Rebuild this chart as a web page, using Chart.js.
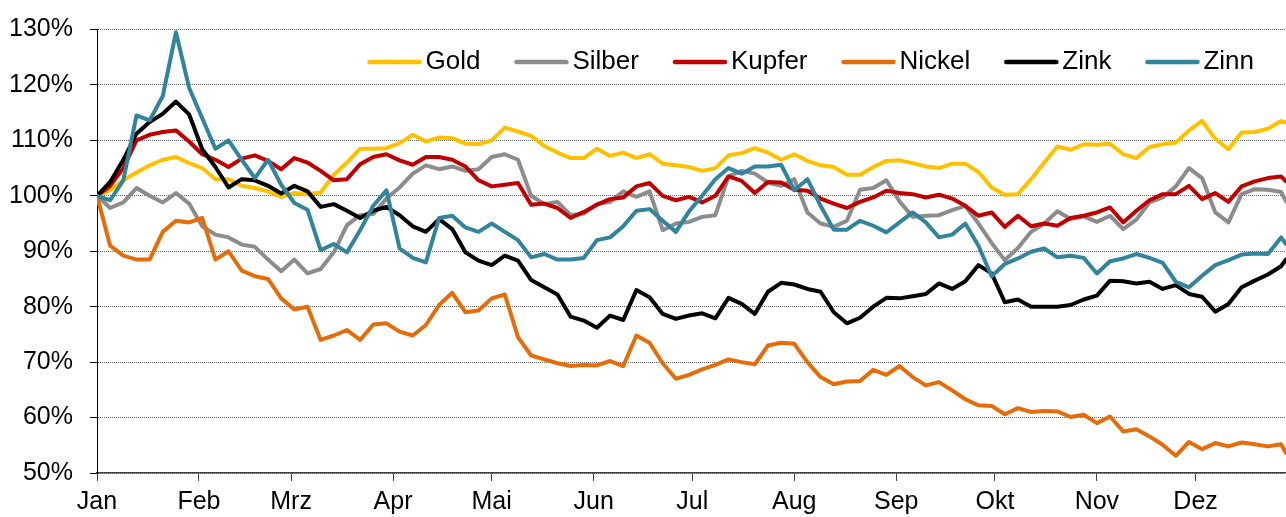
<!DOCTYPE html>
<html lang="de">
<head>
<meta charset="utf-8">
<title>Metalle</title>
<script src="https://cdn.jsdelivr.net/npm/chart.js@4.4.1/dist/chart.umd.min.js"></script>
<style>
  html, body { margin: 0; padding: 0; background: #fff; }
  #wrap { width: 1286px; height: 517px; }
</style>
</head>
<body>
<div id="wrap"><canvas id="chart" width="1286" height="517"></canvas></div>
<script>
// Tag im Jahr (0 = 1. Januar)
const days = [0, 4, 8, 12, 16, 20, 24, 28, 32, 36, 40, 44, 48, 52, 56, 60, 64, 68, 72, 76,
    80, 84, 88, 92, 96, 100, 104, 108, 112, 116, 120, 124, 128, 132, 136, 140, 144, 148, 152, 156,
    160, 164, 168, 172, 176, 180, 184, 188, 192, 196, 200, 204, 208, 212, 216, 220, 224, 228, 232, 236,
    240, 244, 248, 252, 256, 260, 264, 268, 272, 276, 280, 284, 288, 292, 296, 300, 304, 308, 312, 316,
    320, 324, 328, 332, 336, 340, 344, 348, 352, 356, 360, 361.5];

const monthStarts = [0, 31, 59, 90, 120, 151, 181, 212, 243, 273, 304, 334];
const monthLabels = ['Jan', 'Feb', 'Mrz', 'Apr', 'Mai', 'Jun', 'Jul', 'Aug', 'Sep', 'Okt', 'Nov', 'Dez'];
const yTicks = [50, 60, 70, 80, 90, 100, 110, 120, 130];

// Index, Jahresanfang = 100 %
const gold = [100, 101, 102.8, 104.2, 105.5, 106.5, 107, 105.9, 105, 103, 103, 101.8, 101.4, 100.8, 99.8, 100.5, 100.3, 100.6, 103.8, 106,
    108.5, 108.5, 108.6, 109.5, 111, 109.8, 110.5, 110.4, 109.4, 109.3, 110, 112.3, 111.6, 110.8, 109, 107.8, 106.8, 106.8, 108.5, 107.2,
    107.8, 106.8, 107.5, 105.8, 105.5, 105.2, 104.5, 105, 107.3, 107.7, 108.6, 107.8, 106.5, 107.5, 106.3, 105.5, 105.2, 103.8, 103.8, 105.2,
    106.3, 106.4, 105.9, 105.3, 105, 105.8, 105.8, 104.3, 101.5, 100.2, 100.3, 103, 106, 108.9, 108.3, 109.3, 109.2, 109.4, 107.5, 106.8,
    108.8, 109.3, 109.6, 111.8, 113.5, 110.3, 108.4, 111.4, 111.5, 112.1, 113.5, 113.2];

const silber = [100, 97.8, 98.8, 101.4, 100, 98.8, 100.5, 98.6, 94.5, 93, 92.5, 91.2, 90.8, 88.5, 86.4, 88.5, 86, 86.8, 89.8, 94.7,
    96.5, 96.7, 99.5, 101.5, 104, 105.5, 104.8, 105.3, 104.5, 104.8, 107, 107.5, 106.5, 100, 98.5, 98.9, 96.5, 96.8, 98.5, 98.9,
    100.8, 99.8, 100.8, 93.8, 95, 95.3, 96.2, 96.5, 103.5, 104.5, 104, 102.4, 101.8, 103, 97, 95, 94.4, 95.5, 101.1, 101.4,
    102.8, 99, 96.2, 96.4, 96.5, 97.4, 98.2, 95, 91.5, 88.4, 90.6, 93.5, 95, 97.2, 95.8, 96.3, 95.3, 96.4, 94, 95.7,
    98.8, 99.7, 101.7, 105, 103.2, 97, 95.2, 100.3, 101.2, 101.1, 100.7, 99];

const kupfer = [100, 101.8, 105, 110, 111, 111.5, 111.8, 109.8, 107.5, 106.5, 105.2, 106.7, 107.3, 106.3, 104.8, 106.8, 106, 104.5, 102.8, 103,
    105.7, 107, 107.5, 106.4, 105.6, 107, 107, 106.5, 105.3, 102.8, 101.7, 102, 102.3, 98.4, 98.6, 97.8, 96, 97.1, 98.4, 99.4,
    99.7, 101.7, 102.3, 100, 99.2, 99.8, 98.8, 100, 103.5, 102.7, 100.5, 102.5, 102.4, 101.1, 100.9, 99.5, 98.6, 97.8, 98.9, 99.7,
    100.9, 100.5, 100.3, 99.7, 100.2, 99.5, 98.2, 96.4, 97, 94.4, 96.4, 94.5, 95, 94.6, 96, 96.4, 97, 97.9, 95.2, 97.3,
    99.2, 100.3, 100.3, 101.8, 99.4, 100.5, 98.9, 101.7, 102.6, 103.2, 103.5, 102.6];

const nickel = [100, 91, 89.2, 88.5, 88.5, 93.5, 95.5, 95.2, 96, 88.5, 90, 86.5, 85.5, 85, 81.5, 79.5, 80, 74, 74.8, 75.8,
    74, 76.8, 77, 75.5, 74.8, 76.7, 80.3, 82.5, 79, 79.3, 81.5, 82.2, 74.5, 71.2, 70.5, 69.8, 69.3, 69.5, 69.4, 70.2,
    69.3, 74.8, 73.5, 69.8, 67, 67.7, 68.7, 69.5, 70.5, 70, 69.6, 73, 73.5, 73.3, 70, 67.3, 66, 66.5, 66.6, 68.6,
    67.7, 69.3, 67.3, 65.8, 66.4, 64.9, 63.3, 62.2, 62.1, 60.6, 61.7, 61, 61.2, 61.1, 60.1, 60.5, 59, 60.2, 57.5, 57.9,
    56.6, 55.1, 53.1, 55.6, 54.3, 55.4, 54.8, 55.5, 55.2, 54.8, 55.2, 53.6];

const zink = [100, 102.5, 106.5, 111.2, 113.3, 114.8, 117, 114.7, 108.4, 105.2, 101.5, 103, 102.8, 101.8, 100.4, 101.8, 100.8, 98, 98.5, 97.3,
    96, 97.3, 98, 96.5, 94.5, 93.5, 95.8, 94, 89.8, 88.3, 87.5, 89.2, 88.3, 84.8, 83.5, 82.2, 78.2, 77.5, 76.2, 78.4,
    77.6, 83, 81.7, 78.7, 77.8, 78.4, 78.8, 77.9, 81.6, 80.5, 78.7, 82.7, 84.3, 84, 83.2, 82.7, 79, 77, 78, 80,
    81.6, 81.5, 81.9, 82.3, 84.2, 83.2, 84.6, 87.5, 86, 80.8, 81.3, 80, 80, 80, 80.3, 81.3, 82, 84.7, 84.6, 84.2,
    84.5, 83.2, 83.9, 82.3, 81.8, 79.1, 80.5, 83.5, 84.7, 85.8, 87.3, 88.5];

const zinn = [100, 99.2, 102.8, 114.5, 113.6, 118, 129.5, 119.5, 114, 108.5, 110, 106.5, 103.2, 106.5, 102, 98.7, 97.5, 90.2, 91.3, 89.8,
    93.8, 98.2, 101, 90.5, 88.8, 88, 96, 96.4, 94.3, 93.5, 95, 93.5, 92, 88.9, 89.5, 88.5, 88.5, 88.8, 92, 92.5,
    94.5, 97.3, 97.6, 95.5, 93.5, 97.2, 100, 103, 105, 104, 105.3, 105.3, 105.6, 101, 103, 98.2, 93.9, 93.9, 95.5, 94.6,
    93.4, 95.2, 97, 95.2, 92.5, 93, 95, 91, 85.5, 87.7, 88.7, 89.9, 90.5, 88.9, 89.2, 88.8, 86, 88.2, 88.7, 89.5,
    88.8, 87.9, 84.5, 83.5, 85.6, 87.5, 88.4, 89.4, 89.6, 89.5, 92.5, 91.3];

const seriesNames = ['Gold', 'Silber', 'Kupfer', 'Nickel', 'Zink', 'Zinn'];
const seriesColors = ['#FFC000', '#8C8C8C', '#C00000', '#E46C0A', '#000000', '#31849B'];
const seriesValues = [gold, silber, kupfer, nickel, zink, zinn];

const FONT = '"Liberation Sans", Arial, sans-serif';

// kurze Linie mit runden Enden fuer die Legende
function legendLine(color) {
    const c = document.createElement('canvas');
    c.width = 56;
    c.height = 6;
    const g = c.getContext('2d');
    g.strokeStyle = color;
    g.lineWidth = 4.5;
    g.lineCap = 'round';
    g.beginPath();
    g.moveTo(3, 3);
    g.lineTo(53, 3);
    g.stroke();
    return c;
}

// Legende liegt im Diagramm und nimmt keinen Platz weg
const legendInside = {
    id: 'legendInside',
    beforeLayout(chart) {
        const lg = chart.legend;
        if (lg && !lg._inside) {
            const fit = lg.fit;
            lg.fit = function () {
                fit.call(this);
                this.height = 0;
            };
            lg._inside = true;
        }
    },
    afterLayout(chart) {
        const lg = chart.legend;
        lg.left = 333.5;
        lg.right = 4000;
        lg.top = 6;
        lg.bottom = 120;
    }
};

const datasets = seriesNames.map(function (name, s) {
    return {
        label: name,
        data: days.map((d, i) => ({ x: d, y: seriesValues[s][i] })),
        borderColor: seriesColors[s],
        backgroundColor: seriesColors[s],
        borderWidth: 4,
        pointRadius: 0,
        tension: 0,
        borderJoinStyle: 'round',
        borderCapStyle: 'round',
        order: seriesNames.length - s
    };
});

new Chart(document.getElementById('chart'), {
    type: 'line',
    data: { datasets: datasets },
    options: {
        responsive: false,
        animation: false,
        devicePixelRatio: 1,
        layout: { padding: { left: 0, right: 0, top: 26, bottom: 0 } },
        plugins: {
            tooltip: { enabled: false },
            legend: {
                position: 'top',
                align: 'start',
                labels: {
                    usePointStyle: true,
                    pointStyleWidth: 36,
                    padding: 43,
                    color: '#000',
                    font: { family: FONT, size: 26 },
                    generateLabels: chart => chart.data.datasets.map((ds, i) => ({
                        text: ds.label,
                        fillStyle: ds.borderColor,
                        strokeStyle: ds.borderColor,
                        lineWidth: 0,
                        pointStyle: legendLine(ds.borderColor),
                        fontColor: '#000',
                        hidden: false,
                        datasetIndex: i
                    }))
                }
            }
        },
        scales: {
            x: {
                type: 'linear',
                min: 0,
                max: 361.5,
                afterBuildTicks: axis => { axis.ticks = monthStarts.map(v => ({ value: v })); },
                afterFit: axis => { axis.height = 44; },
                ticks: {
                    autoSkip: false,
                    maxRotation: 0,
                    padding: 9,
                    color: '#000',
                    font: { family: FONT, size: 25, lineHeight: 1 },
                    callback: (v, i) => monthLabels[i]
                },
                grid: {
                    drawOnChartArea: false,
                    drawTicks: true,
                    tickLength: 8,
                    tickColor: '#404040'
                },
                border: { color: '#404040', width: 1.5 }
            },
            y: {
                min: 50,
                max: 130,
                afterBuildTicks: axis => { axis.ticks = yTicks.map(v => ({ value: v })); },
                afterFit: axis => { axis.width = 97; },
                ticks: {
                    padding: 17,
                    color: '#000',
                    font: { family: FONT, size: 25, lineHeight: 1 },
                    callback: v => v + '%'
                },
                grid: {
                    color: '#666666',
                    lineWidth: 1,
                    tickLength: 7,
                    tickColor: '#000',
                    tickBorderDash: []
                },
                border: { color: '#000', width: 1, dash: [1, 1] }
            }
        }
    },
    plugins: [legendInside]
});
</script>
</body>
</html>
